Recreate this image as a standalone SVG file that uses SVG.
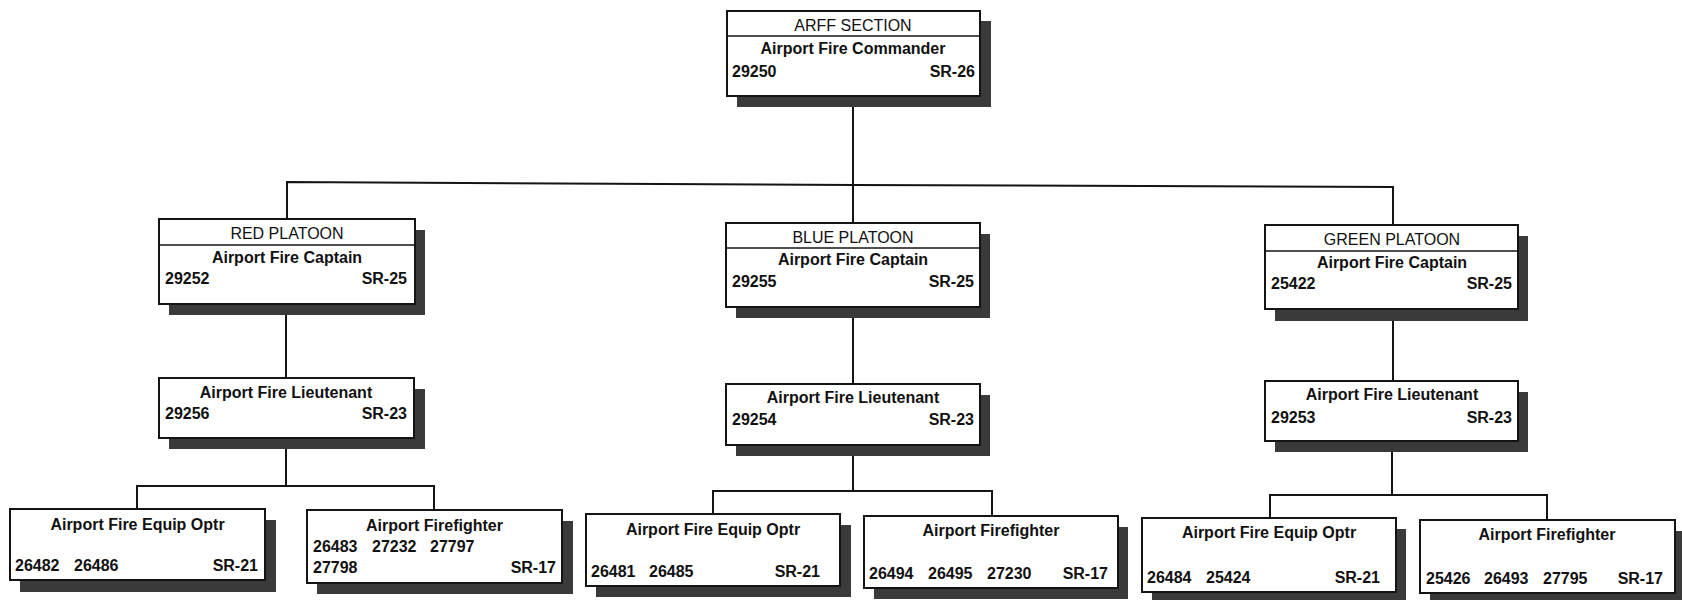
<svg xmlns="http://www.w3.org/2000/svg" width="1682" height="600" viewBox="0 0 1682 600">
<style>
.bg{fill:#ffffff}
.sh{fill:#3a3a3a}
.box{fill:#ffffff;stroke:#141414;stroke-width:2}
.div{stroke:#141414;stroke-width:1.5}
.cn{fill:none;stroke:#141414;stroke-width:2}
text{font-family:"Liberation Sans",Arial,sans-serif;font-size:16px;fill:#111111}
.b{font-weight:bold}
.c{text-anchor:middle}
.e{text-anchor:end}
</style>
<rect class="bg" x="0" y="0" width="1682" height="600"/>
<g id="connectors">
<path class="cn" d="M853,96 V185"/>
<path class="cn" d="M287,219 V182 L853,185 L1393,187 V225"/>
<path class="cn" d="M853,185 V223"/>
<path class="cn" d="M286,304 V378"/>
<path class="cn" d="M853,307 V384"/>
<path class="cn" d="M1393,309 V381"/>
<path class="cn" d="M286,438 V486"/>
<path class="cn" d="M137,509 V486 H434 V510"/>
<path class="cn" d="M853,445 V491"/>
<path class="cn" d="M713,514 V491 H992 V516"/>
<path class="cn" d="M1392,441 V495"/>
<path class="cn" d="M1270,518 V495 H1547 V520"/>
</g>
<g id="arff-section">
<rect class="sh" x="737" y="21" width="254" height="86"/>
<rect class="box" x="727" y="11" width="253" height="85"/>
<line class="div" x1="727" y1="36" x2="980" y2="36"/>
<text class="c" x="853" y="31">ARFF SECTION</text>
<text class="b c" x="853" y="54">Airport Fire Commander</text>
<text class="b" x="732" y="77">29250</text>
<text class="b e" x="975" y="77">SR-26</text>
</g>
<g id="red-platoon">
<rect class="sh" x="169" y="230" width="256" height="85"/>
<rect class="box" x="159" y="219" width="256" height="85"/>
<line class="div" x1="159" y1="245" x2="415" y2="245"/>
<text class="c" x="287" y="239">RED PLATOON</text>
<text class="b c" x="287" y="263">Airport Fire Captain</text>
<text class="b" x="165" y="284">29252</text>
<text class="b e" x="407" y="284">SR-25</text>
</g>
<g id="blue-platoon">
<rect class="sh" x="736" y="234" width="254" height="84"/>
<rect class="box" x="726" y="223" width="254" height="84"/>
<line class="div" x1="726" y1="248" x2="980" y2="248"/>
<text class="c" x="853" y="243">BLUE PLATOON</text>
<text class="b c" x="853" y="265">Airport Fire Captain</text>
<text class="b" x="732" y="287">29255</text>
<text class="b e" x="974" y="287">SR-25</text>
</g>
<g id="green-platoon">
<rect class="sh" x="1275" y="236" width="253" height="85"/>
<rect class="box" x="1265" y="225" width="253" height="84"/>
<line class="div" x1="1265" y1="251" x2="1518" y2="251"/>
<text class="c" x="1392" y="245">GREEN PLATOON</text>
<text class="b c" x="1392" y="268">Airport Fire Captain</text>
<text class="b" x="1265" y="289" dx="6">25422</text>
<text class="b e" x="1512" y="289">SR-25</text>
</g>
<g id="red-lieutenant">
<rect class="sh" x="169" y="389" width="256" height="60"/>
<rect class="box" x="159" y="378" width="255" height="60"/>
<text class="b c" x="286" y="398">Airport Fire Lieutenant</text>
<text class="b" x="165" y="419">29256</text>
<text class="b e" x="407" y="419">SR-23</text>
</g>
<g id="blue-lieutenant">
<rect class="sh" x="736" y="395" width="254" height="61"/>
<rect class="box" x="726" y="384" width="254" height="61"/>
<text class="b c" x="853" y="403">Airport Fire Lieutenant</text>
<text class="b" x="732" y="425">29254</text>
<text class="b e" x="974" y="425">SR-23</text>
</g>
<g id="green-lieutenant">
<rect class="sh" x="1275" y="392" width="253" height="60"/>
<rect class="box" x="1265" y="381" width="253" height="60"/>
<text class="b c" x="1392" y="400">Airport Fire Lieutenant</text>
<text class="b" x="1271" y="423">29253</text>
<text class="b e" x="1512" y="423">SR-23</text>
</g>
<g id="red-equip-optr">
<rect class="sh" x="20" y="520" width="256" height="72"/>
<rect class="box" x="10" y="509" width="255" height="71"/>
<text class="b c" x="137.5" y="530">Airport Fire Equip Optr</text>
<text class="b" x="15" y="571">26482</text>
<text class="b" x="74" y="571">26486</text>
<text class="b e" x="258" y="571">SR-21</text>
</g>
<g id="red-firefighter">
<rect class="sh" x="317" y="521" width="256" height="73"/>
<rect class="box" x="307" y="510" width="255" height="73"/>
<text class="b c" x="434.5" y="531">Airport Firefighter</text>
<text class="b" x="313" y="552">26483</text>
<text class="b" x="372" y="552">27232</text>
<text class="b" x="430" y="552">27797</text>
<text class="b" x="313" y="573">27798</text>
<text class="b e" x="556" y="573">SR-17</text>
</g>
<g id="blue-equip-optr">
<rect class="sh" x="596" y="525" width="255" height="72"/>
<rect class="box" x="586" y="514" width="254" height="72"/>
<text class="b c" x="713" y="535">Airport Fire Equip Optr</text>
<text class="b" x="591" y="577">26481</text>
<text class="b" x="649" y="577">26485</text>
<text class="b e" x="820" y="577">SR-21</text>
</g>
<g id="blue-firefighter">
<rect class="sh" x="874" y="527" width="254" height="72"/>
<rect class="box" x="864" y="516" width="254" height="72"/>
<text class="b c" x="991" y="536">Airport Firefighter</text>
<text class="b" x="869" y="579">26494</text>
<text class="b" x="928" y="579">26495</text>
<text class="b" x="987" y="579">27230</text>
<text class="b e" x="1108" y="579">SR-17</text>
</g>
<g id="green-equip-optr">
<rect class="sh" x="1152" y="529" width="254" height="74"/>
<rect class="box" x="1142" y="518" width="254" height="74"/>
<text class="b c" x="1269" y="538">Airport Fire Equip Optr</text>
<text class="b" x="1147" y="583">26484</text>
<text class="b" x="1206" y="583">25424</text>
<text class="b e" x="1380" y="583">SR-21</text>
</g>
<g id="green-firefighter">
<rect class="sh" x="1430" y="531" width="255" height="73"/>
<rect class="box" x="1420" y="520" width="255" height="73"/>
<text class="b c" x="1547" y="540">Airport Firefighter</text>
<text class="b" x="1426" y="584">25426</text>
<text class="b" x="1484" y="584">26493</text>
<text class="b" x="1543" y="584">27795</text>
<text class="b e" x="1663" y="584">SR-17</text>
</g>
</svg>
